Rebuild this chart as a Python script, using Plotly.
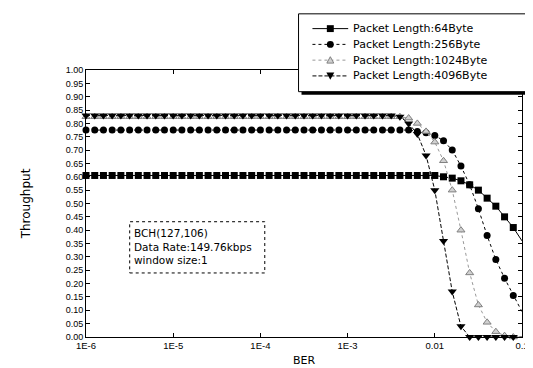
import plotly.graph_objects as go

# BER exponents (10 points per decade)
ber_exp = [-6.0, -5.9, -5.8, -5.7, -5.6, -5.5, -5.4, -5.3, -5.2, -5.1,
           -5.0, -4.9, -4.8, -4.7, -4.6, -4.5, -4.4, -4.3, -4.2, -4.1,
           -4.0, -3.9, -3.8, -3.7, -3.6, -3.5, -3.4, -3.3, -3.2, -3.1,
           -3.0, -2.9, -2.8, -2.7, -2.6, -2.5, -2.4, -2.3, -2.2, -2.1,
           -2.0, -1.9, -1.8, -1.7, -1.6, -1.5, -1.4, -1.3, -1.2, -1.1, -1.0]
ber = [10 ** e for e in ber_exp]

tp_64 = [0.605, 0.605, 0.605, 0.605, 0.605, 0.605, 0.605, 0.605, 0.605, 0.605,
         0.605, 0.605, 0.605, 0.605, 0.605, 0.605, 0.605, 0.605, 0.605, 0.605,
         0.605, 0.605, 0.605, 0.605, 0.605, 0.605, 0.605, 0.605, 0.605, 0.605,
         0.605, 0.605, 0.605, 0.605, 0.605, 0.605, 0.605, 0.605, 0.605, 0.605,
         0.605, 0.60, 0.595, 0.585, 0.57, 0.55, 0.52, 0.49, 0.45, 0.41, 0.36]
tp_256 = [0.775, 0.775, 0.775, 0.775, 0.775, 0.775, 0.775, 0.775, 0.775, 0.775,
          0.775, 0.775, 0.775, 0.775, 0.775, 0.775, 0.775, 0.775, 0.775, 0.775,
          0.775, 0.775, 0.775, 0.775, 0.775, 0.775, 0.775, 0.775, 0.775, 0.775,
          0.775, 0.775, 0.775, 0.775, 0.775, 0.775, 0.775, 0.775, 0.77, 0.765,
          0.755, 0.735, 0.70, 0.64, 0.57, 0.48, 0.38, 0.29, 0.22, 0.155, 0.095]
tp_1024 = [0.825, 0.825, 0.825, 0.825, 0.825, 0.825, 0.825, 0.825, 0.825, 0.825,
           0.825, 0.825, 0.825, 0.825, 0.825, 0.825, 0.825, 0.825, 0.825, 0.825,
           0.825, 0.825, 0.825, 0.825, 0.825, 0.825, 0.825, 0.825, 0.825, 0.825,
           0.825, 0.825, 0.825, 0.825, 0.825, 0.825, 0.825, 0.82, 0.80, 0.77,
           0.73, 0.66, 0.55, 0.40, 0.24, 0.12, 0.055, 0.02, 0.005, 0.0, 0.0]
tp_4096 = [0.83, 0.83, 0.83, 0.83, 0.83, 0.83, 0.83, 0.83, 0.83, 0.83,
           0.83, 0.83, 0.83, 0.83, 0.83, 0.83, 0.83, 0.83, 0.83, 0.83,
           0.83, 0.83, 0.83, 0.83, 0.83, 0.83, 0.83, 0.83, 0.83, 0.83,
           0.83, 0.83, 0.83, 0.83, 0.83, 0.83, 0.825, 0.80, 0.76, 0.68,
           0.55, 0.36, 0.17, 0.04, 0.0, 0.0, 0.0, 0.0, 0.0, 0.0, 0.0]

x_tickvals = [1e-6, 1e-5, 1e-4, 1e-3, 1e-2, 1e-1]
x_ticktext = ["1E-6", "1E-5", "1E-4", "1E-3", "0.01", "0.1"]
y_tickvals = [i / 20 for i in range(21)]
y_ticktext = ["%.2f" % v for v in y_tickvals]

names = ["Packet Length:64Byte", "Packet Length:256Byte",
         "Packet Length:1024Byte", "Packet Length:4096Byte"]
info_lines = ["BCH(127,106)", "Data Rate:149.76kbps", "window size:1"]

FONT = "Liberation Sans, Arial, sans-serif"
FONT2 = "DejaVu Sans, Liberation Sans, sans-serif"

styles = [
    dict(line=dict(color="black", width=1),
         marker=dict(symbol="square", size=7, color="black")),
    dict(line=dict(color="black", width=1, dash="dot"),
         marker=dict(symbol="circle", size=7, color="black")),
    dict(line=dict(color="#999999", width=1, dash="dot"),
         marker=dict(symbol="triangle-up", size=7, color="#d0d0d0",
                     line=dict(color="#808080", width=1))),
    dict(line=dict(color="black", width=1, dash="4px,2px"),
         marker=dict(symbol="triangle-down", size=8, color="black")),
]
series = [tp_64, tp_256, tp_1024, tp_4096]

fig = go.Figure()
for nm, ys, st in zip(names, series, styles):
    fig.add_trace(go.Scatter(x=ber, y=ys, name=nm, mode="lines+markers",
                             showlegend=False, cliponaxis=False, **st))

L, R, T, B = 78, 16, 62, 35
W, H = 533, 368
pw, ph = W - L - R, H - T - B


def xp(px):
    return (px - L) / pw


def yp(py):
    return (H - B - py) / ph


def rect(x0, x1, y0, y1, **kw):
    fig.add_shape(type="rect", xref="paper", yref="paper",
                  x0=xp(x0), x1=xp(x1), y0=yp(y1), y1=yp(y0), layer="above", **kw)


# ---- manual legend (box with drop shadow) ----
rect(295, 528, 8, 87, fillcolor="black", line=dict(width=0))
rect(292, 525, 5, 84, fillcolor="white", line=dict(color="black", width=1))
row_y = [20, 36, 52, 68]
for i, (nm, st) in enumerate(zip(names, styles)):
    yy = row_y[i]
    ln = st["line"]
    fig.add_shape(type="line", xref="paper", yref="paper", layer="above",
                  x0=xp(306), x1=xp(342), y0=yp(yy), y1=yp(yy),
                  line=dict(color=ln["color"], width=1, dash=ln.get("dash", "solid")))
    mk = st["marker"]
    cx = 324
    if mk["symbol"] == "square":
        rect(cx - 3.5, cx + 3.5, yy - 3.5, yy + 3.5, fillcolor="black",
             line=dict(width=0))
    elif mk["symbol"] == "circle":
        fig.add_shape(type="circle", xref="paper", yref="paper", layer="above",
                      x0=xp(cx - 3.5), x1=xp(cx + 3.5), y0=yp(yy + 3.5), y1=yp(yy - 3.5),
                      fillcolor="black", line=dict(width=0))
    elif mk["symbol"] == "triangle-up":
        fig.add_shape(type="path", xref="paper", yref="paper", layer="above",
                      path="M %f,%f L %f,%f L %f,%f Z" % (
                          xp(cx), yp(yy - 3.5), xp(cx - 3.5), yp(yy + 3), xp(cx + 3.5), yp(yy + 3)),
                      fillcolor="#d0d0d0", line=dict(color="#808080", width=1))
    else:
        fig.add_shape(type="path", xref="paper", yref="paper", layer="above",
                      path="M %f,%f L %f,%f L %f,%f Z" % (
                          xp(cx), yp(yy + 4), xp(cx - 4), yp(yy - 3.5), xp(cx + 4), yp(yy - 3.5)),
                      fillcolor="black", line=dict(width=0))
    fig.add_annotation(xref="paper", yref="paper", x=xp(345), y=yp(yy),
                       xanchor="left", yanchor="middle", showarrow=False,
                       text=nm, font=dict(family=FONT2, size=11, color="black"))

# ---- info box (dotted border) ----
fig.add_shape(type="rect", xref="paper", yref="paper",
              x0=xp(122), x1=xp(258), y0=yp(268), y1=yp(216),
              line=dict(color="black", width=1, dash="dot"), fillcolor="white")
fig.add_annotation(xref="paper", yref="paper", x=xp(124), y=yp(241),
                   xanchor="left", yanchor="middle", showarrow=False, align="left",
                   text="<br>".join(info_lines),
                   font=dict(family=FONT2, size=10.5, color="black"))

fig.update_layout(
    width=W, height=H,
    margin=dict(l=L, r=R, t=T, b=B, pad=0),
    paper_bgcolor="white", plot_bgcolor="white",
    font=dict(family=FONT, color="black"),
    showlegend=False,
)
fig.update_xaxes(type="log", range=[-6, -1], tickvals=x_tickvals, ticktext=x_ticktext,
                 showline=True, linecolor="black", linewidth=1, mirror="allticks",
                 ticks="inside", ticklen=4, tickcolor="black", showgrid=False,
                 zeroline=False, tickfont=dict(family=FONT, size=9.5, color="black"),
                 ticklabeloverflow="allow",
                 title=dict(text="BER", font=dict(family=FONT2, size=11), standoff=5))
fig.update_yaxes(range=[0, 1], tickvals=y_tickvals, ticktext=y_ticktext,
                 showline=True, linecolor="black", linewidth=1, mirror="allticks",
                 ticks="inside", ticklen=4, tickcolor="black", showgrid=False,
                 zeroline=False, tickfont=dict(family=FONT, size=9, color="black"),
                 title=dict(text="Throughput", font=dict(family=FONT2, size=12), standoff=32))

fig.write_html("out.html")
